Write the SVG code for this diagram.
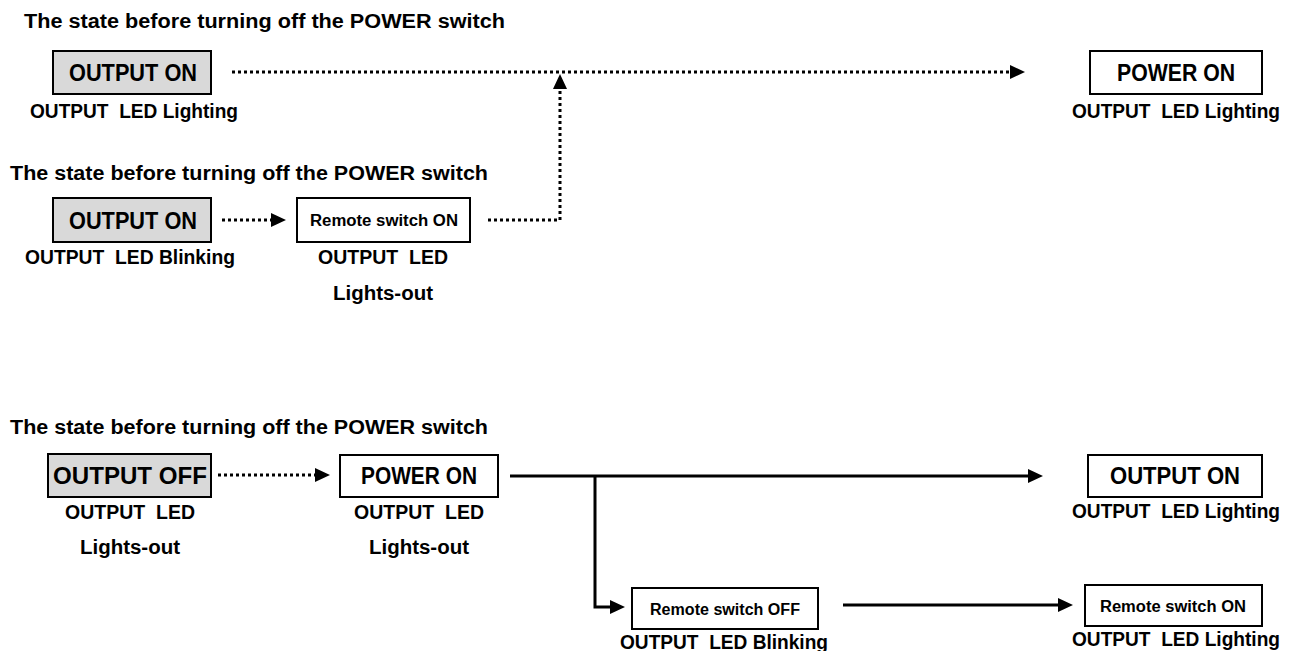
<svg xmlns="http://www.w3.org/2000/svg" width="1294" height="651" viewBox="0 0 1294 651">
<defs>
<style>
text{font-family:"Liberation Sans",Arial,sans-serif;font-weight:bold;fill:#000;white-space:pre}
.title{font-size:20px}
.big{font-size:23px;text-anchor:middle}
.small{font-size:16px;text-anchor:middle}
.lbl{font-size:20px;text-anchor:middle}
.gray{fill:#d9d9d9;stroke:#000;stroke-width:2}
.white{fill:#fff;stroke:#000;stroke-width:2}
.dot{fill:none;stroke:#000;stroke-width:3;stroke-dasharray:3 3}
.solid{fill:none;stroke:#000;stroke-width:3}
</style>
<marker id="ah" markerUnits="userSpaceOnUse" markerWidth="15" markerHeight="14" refX="0" refY="7" orient="auto" overflow="visible">
<path d="M0,0 L15,7 L0,14 z" fill="#000"/>
</marker>
</defs>
<rect width="1294" height="651" fill="#fff"/>

<g id="titles">
<text class="title" x="24" y="28" textLength="481" lengthAdjust="spacingAndGlyphs">The state before turning off the POWER switch</text>
<text class="title" x="10" y="180" textLength="478" lengthAdjust="spacingAndGlyphs">The state before turning off the POWER switch</text>
<text class="title" x="10" y="434" textLength="478" lengthAdjust="spacingAndGlyphs">The state before turning off the POWER switch</text>
</g>

<g id="connectors">
<path class="dot" d="M232,72 H1010" marker-end="url(#ah)"/>
<path class="dot" d="M488,220 H560 V89" marker-end="url(#ah)"/>
<path class="dot" d="M222,220 H271" marker-end="url(#ah)"/>
<path class="dot" d="M218,475 H315" marker-end="url(#ah)"/>
<path class="solid" d="M510,476 H1028" marker-end="url(#ah)"/>
<path class="solid" d="M595,476 V607 H610" marker-end="url(#ah)"/>
<path class="solid" d="M843,605 H1058" marker-end="url(#ah)"/>
</g>

<g id="n1">
<rect class="gray" x="53" y="51" width="158" height="43"/>
<text class="big" x="133" y="81" textLength="128" lengthAdjust="spacingAndGlyphs">OUTPUT ON</text>
<text class="lbl" x="134" y="118" textLength="208" lengthAdjust="spacingAndGlyphs">OUTPUT  LED Lighting</text>
</g>
<g id="n2">
<rect class="white" x="1090" y="51" width="172" height="43"/>
<text class="big" x="1176" y="81" textLength="118" lengthAdjust="spacingAndGlyphs">POWER ON</text>
<text class="lbl" x="1176" y="118" textLength="208" lengthAdjust="spacingAndGlyphs">OUTPUT  LED Lighting</text>
</g>
<g id="n3">
<rect class="gray" x="53" y="198" width="158" height="44"/>
<text class="big" x="133" y="229" textLength="128" lengthAdjust="spacingAndGlyphs">OUTPUT ON</text>
<text class="lbl" x="130" y="264" textLength="210" lengthAdjust="spacingAndGlyphs">OUTPUT  LED Blinking</text>
</g>
<g id="n4">
<rect class="white" x="297" y="198" width="173" height="44"/>
<text class="small" x="384" y="226" textLength="148" lengthAdjust="spacingAndGlyphs">Remote switch ON</text>
<text class="lbl" x="383" y="264" textLength="130" lengthAdjust="spacingAndGlyphs">OUTPUT  LED</text>
<text class="lbl" x="383" y="300" textLength="100" lengthAdjust="spacingAndGlyphs">Lights-out</text>
</g>
<g id="n5">
<rect class="gray" x="48" y="454" width="163" height="43"/>
<text class="big" x="130" y="484" textLength="154" lengthAdjust="spacingAndGlyphs">OUTPUT OFF</text>
<text class="lbl" x="130" y="519" textLength="130" lengthAdjust="spacingAndGlyphs">OUTPUT  LED</text>
<text class="lbl" x="130" y="554" textLength="100" lengthAdjust="spacingAndGlyphs">Lights-out</text>
</g>
<g id="n6">
<rect class="white" x="340" y="455" width="158" height="42"/>
<text class="big" x="419" y="484" textLength="116" lengthAdjust="spacingAndGlyphs">POWER ON</text>
<text class="lbl" x="419" y="519" textLength="130" lengthAdjust="spacingAndGlyphs">OUTPUT  LED</text>
<text class="lbl" x="419" y="554" textLength="100" lengthAdjust="spacingAndGlyphs">Lights-out</text>
</g>
<g id="n7">
<rect class="white" x="1088" y="455" width="174" height="42"/>
<text class="big" x="1175" y="484" textLength="130" lengthAdjust="spacingAndGlyphs">OUTPUT ON</text>
<text class="lbl" x="1176" y="518" textLength="208" lengthAdjust="spacingAndGlyphs">OUTPUT  LED Lighting</text>
</g>
<g id="n8">
<rect class="white" x="632" y="588" width="186" height="41"/>
<text class="small" x="725" y="615" textLength="150" lengthAdjust="spacingAndGlyphs">Remote switch OFF</text>
<text class="lbl" x="724" y="649" textLength="208" lengthAdjust="spacingAndGlyphs">OUTPUT  LED Blinking</text>
</g>
<g id="n9">
<rect class="white" x="1085" y="585" width="177" height="41"/>
<text class="small" x="1173" y="612" textLength="146" lengthAdjust="spacingAndGlyphs">Remote switch ON</text>
<text class="lbl" x="1176" y="646" textLength="208" lengthAdjust="spacingAndGlyphs">OUTPUT  LED Lighting</text>
</g>
</svg>
